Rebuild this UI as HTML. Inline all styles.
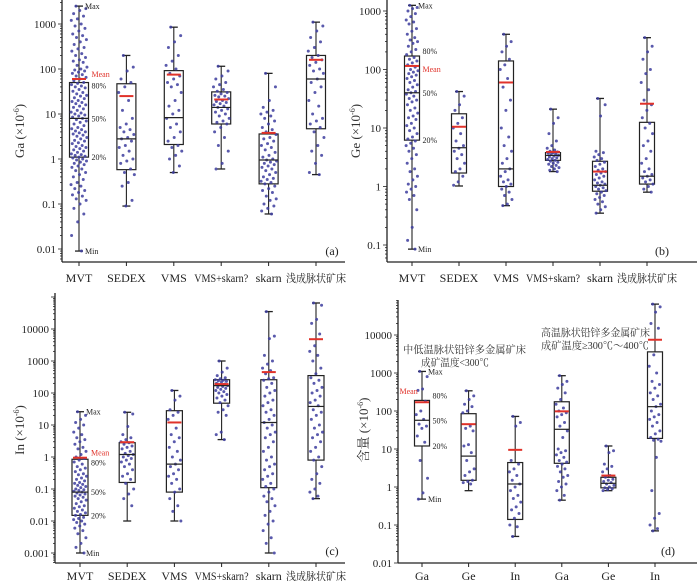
<!DOCTYPE html>
<html><head><meta charset="utf-8"><style>
html,body{margin:0;padding:0;background:#fff;}
svg{display:block;font-family:"Liberation Serif","Noto Serif CJK SC",serif;}
</style></head><body>
<svg id="chart" width="700" height="581" viewBox="0 0 700 581" xmlns="http://www.w3.org/2000/svg"></svg>
<script>
// ---------- data ----------
const catsABC = ["MVT","SEDEX","VMS","VMS+skarn?","skarn","浅成脉状矿床"];
const catsD = ["Ga","Ge","In","Ga","Ge","In"];

const ticksA = [0.01,0.1,1,10,100,1000];
const ticksB = [0.1,1,10,100,1000];
const ticksC = [0.001,0.01,0.1,1,10,100,1000,10000];
const ticksD = [0.01,0.1,1,10,100,1000,10000];

const aMin=[0.009,0.09,0.5,0.6,0.06,0.45];
const aQ20=[1.1,0.58,2.1,6,0.28,4.7];
const aMed=[8,2.8,8.3,14,0.95,60];
const aQ80=[50,47,92,31,3.6,200];
const aMax=[2500,200,850,115,80,1100];
const aMean=[60,25,75,21,3.8,160];
const aPts=[
[2500,2200,2000,1700,1500,1300,1200,1000,900,800,700,600,550,500,450,400,350,300,280,250,220,200,180,160,150,140,120,110,100,95,90,85,80,75,70,65,60,55,50,48,45,42,40,38,35,32,30,28,26,25,23,22,20,19,18,17,16,15,14,13,12,11,10.5,10,9.5,9,8.5,8,7.5,7,6.5,6,5.5,5,4.7,4.5,4.2,4,3.8,3.6,3.4,3.2,3,2.8,2.6,2.5,2.3,2.2,2,1.9,1.8,1.7,1.6,1.5,1.4,1.3,1.25,1.2,1.15,1.1,1.05,1,0.95,0.9,0.85,0.8,0.75,0.7,0.65,0.6,0.55,0.5,0.45,0.4,0.35,0.3,0.27,0.25,0.22,0.2,0.18,0.16,0.15,0.13,0.12,0.1,0.08,0.06,0.04,0.02,0.009],
[200,110,90,60,50,40,30,20,12,8,6,5,4.5,4,3.5,3,2.8,2.5,2,1.8,1.5,1.2,1,0.9,0.8,0.6,0.5,0.45,0.3,0.25,0.12,0.09],
[850,550,400,300,200,150,120,100,80,70,60,50,45,40,30,20,15,12,10,8,6,5,4,3,2.5,2,1.8,1.5,1.2,1,0.7,0.5],
[115,90,70,60,50,45,40,35,32,30,28,26,25,24,22,20,19,18,17,16,15,14,13,12,11,10,9,8,7,6.5,6,5,4,3,2,1.5,0.8,0.6],
[80,40,20,14,12,11,10,9,8,7,6,5,4.5,4,3.5,3,2.8,2.5,2.2,2,1.8,1.6,1.4,1.2,1.1,1,0.95,0.9,0.85,0.8,0.75,0.7,0.65,0.6,0.55,0.5,0.45,0.4,0.37,0.35,0.32,0.3,0.28,0.25,0.22,0.2,0.18,0.15,0.13,0.12,0.1,0.09,0.08,0.07,0.06],
[1100,900,700,500,400,300,250,200,180,160,140,120,100,90,80,60,50,40,30,20,15,10,8,7,6,5,4,3,2,1.5,1.2,0.8,0.5,0.45]];

const bMin=[0.085,1.02,0.47,1.8,0.35,0.8];
const bQ20=[6.2,1.7,1.0,2.8,0.83,1.1];
const bMed=[40,4.6,2.0,3.4,1.05,1.5];
const bQ80=[170,17.5,140,3.8,2.7,12.5];
const bMax=[1250,42,400,21,32,350];
const bMean=[115,10.5,60,3.9,1.8,26];
const bPts=[
[1250,1150,1100,1000,900,800,700,650,600,500,450,400,350,320,300,280,250,220,200,180,160,150,140,130,120,110,100,95,90,85,80,75,70,65,60,55,50,45,42,40,38,35,32,30,28,25,22,20,18,16,15,14,12,11,10,9,8,7,6.5,6,5.5,5,4.5,4,3.5,3,2.5,2,1.8,1.5,1.3,1.1,1,0.9,0.8,0.7,0.6,0.4,0.2,0.12,0.085],
[42,35,25,20,15,12,10,8,6,5,4.5,4,3.5,3,2.5,2,1.8,1.5,1.2,1.05],
[400,300,250,200,150,120,100,70,50,30,20,10,7,5,4,3,2.5,2,1.8,1.5,1.3,1.2,1.1,1,0.9,0.8,0.7,0.6,0.5,0.47],
[21,15,12,8,6,5,4.5,4.2,4,3.9,3.8,3.7,3.6,3.5,3.4,3.3,3.2,3.1,3,2.9,2.8,2.7,2.6,2.5,2.4,2.3,2.2,2.1,2,1.9,1.8],
[32,25,16,4,3.8,3.5,3.2,3,2.8,2.6,2.4,2.2,2,1.9,1.8,1.7,1.6,1.5,1.4,1.3,1.2,1.15,1.1,1.05,1,0.95,0.9,0.85,0.8,0.75,0.7,0.65,0.6,0.55,0.5,0.45,0.4,0.35],
[350,250,200,150,100,85,60,45,30,25,20,15,12,10,8,6,5,4,3,2.5,2,1.8,1.6,1.5,1.4,1.3,1.2,1.1,1,0.9,0.8]];

const cMin=[0.001,0.01,0.01,3.5,0.001,0.05];
const cQ20=[0.015,0.16,0.08,48,0.11,0.8];
const cMed=[0.08,1.2,0.6,170,12,38];
const cQ80=[0.85,2.8,28,260,260,350];
const cMax=[26,25,120,1000,35000,65000];
const cMean=[0.95,2.9,12,190,450,4800];
const cPts=[
[26,20,15,12,10,8,6,5,4,3.5,3,2.5,2,1.8,1.5,1.2,1,0.9,0.8,0.7,0.6,0.5,0.45,0.4,0.35,0.3,0.28,0.25,0.22,0.2,0.18,0.16,0.15,0.14,0.13,0.12,0.11,0.1,0.095,0.09,0.085,0.08,0.075,0.07,0.065,0.06,0.055,0.05,0.045,0.04,0.035,0.03,0.028,0.025,0.022,0.02,0.018,0.016,0.015,0.013,0.012,0.011,0.01,0.009,0.008,0.007,0.006,0.005,0.004,0.003,0.002,0.0015,0.001],
[25,22,9,5,4,3.5,3,2.8,2.5,2.2,2,1.8,1.5,1.3,1.2,1.1,1,0.9,0.8,0.7,0.6,0.5,0.4,0.3,0.25,0.2,0.15,0.1,0.07,0.05,0.03],
[120,80,60,30,25,20,15,8,5,4,3,2,1.5,1,0.8,0.6,0.5,0.4,0.3,0.25,0.2,0.15,0.1,0.08,0.05,0.03,0.02,0.01],
[1000,600,450,350,300,280,260,250,240,230,220,200,190,180,170,160,150,140,130,120,110,100,90,80,70,60,50,40,30,25,20,6,5,3.5],
[35000,6000,5000,1500,1000,800,600,500,400,300,280,250,200,150,120,100,80,60,50,40,30,25,20,15,12,10,8,6,5,4,3,2,1.5,1,0.8,0.6,0.5,0.4,0.3,0.25,0.2,0.15,0.12,0.1,0.08,0.06,0.05,0.04,0.03,0.02,0.015,0.01,0.008,0.005,0.003,0.002,0.001],
[65000,55000,20000,15000,7000,3000,2000,1500,1000,600,400,300,250,200,150,120,100,80,60,50,40,30,25,20,15,10,8,6,5,4,3,2,1.5,1,0.8,0.5,0.3,0.2,0.15,0.1,0.08,0.06,0.05]];

const dMin=[0.48,0.8,0.05,0.45,0.8,0.07];
const dQ20=[12,1.5,0.14,4.2,0.95,19];
const dMed=[57,6.5,1.2,33,1.25,130];
const dQ80=[190,85,4.4,175,1.8,3600];
const dMax=[1100,340,72,850,12,65000];
const dMean=[170,45,9.5,98,2.0,7500];
const dPts=[
[1100,800,380,350,180,100,80,60,45,40,35,22,15,5,1.7,0.7,0.48],
[340,250,200,150,130,100,90,40,35,30,13,12,8,5,3,2.5,2,1.5,1.4,1.3,1.2],
[72,50,40,5,4,3,2.5,2,1.5,1.2,1,0.8,0.6,0.5,0.4,0.3,0.25,0.2,0.15,0.1,0.09,0.05],
[850,600,500,400,300,200,150,120,100,90,80,70,50,40,30,20,10,9,8,7,6,5,4.5,4,3.5,3,2.5,2,1.8,1.4,1.2,1,0.8,0.6,0.45],
[12,9,8,4,3.5,3,2.5,2,1.8,1.6,1.5,1.4,1.3,1.2,1.1,1,0.95,0.9,0.85,0.8],
[65000,55000,40000,20000,15000,3000,1500,1000,600,500,400,300,250,200,150,130,100,80,70,60,50,40,30,25,20,18,17,16,6,0.8,0.2,0.15,0.1,0.08,0.07]];

// ---------- layout ----------
const NS="http://www.w3.org/2000/svg";
const svg=document.getElementById('chart');
function mk(tag,attrs,parent){const e=document.createElementNS(NS,tag);for(const k in attrs)e.setAttribute(k,attrs[k]);(parent||svg).appendChild(e);return e;}

const panels=[
 {id:'a',cats:catsABC,ticks:ticksA,mins:aMin,q20:aQ20,med:aMed,q80:aQ80,maxs:aMax,means:aMean,pts:aPts,
  ax:62,top:0,bot:262,right:345,ay1:159,ppd:45,x0:79,dx:47.4,bw:19,title:"Ga",tx:24,ty:131,lx:332,ly:255,catY:282,meanMode:'above'},
 {id:'b',cats:catsABC,ticks:ticksB,mins:bMin,q20:bQ20,med:bMed,q80:bQ80,maxs:bMax,means:bMean,pts:bPts,
  ax:387,top:0,bot:262,right:697,ay1:186.5,ppd:58.5,x0:412,dx:47,bw:15,title:"Ge",tx:360,ty:131,lx:662,ly:255,catY:282,meanMode:'below'},
 {id:'c',cats:catsABC,ticks:ticksC,mins:cMin,q20:cQ20,med:cMed,q80:cQ80,maxs:cMax,means:cMean,pts:cPts,
  ax:55,top:293,bot:563,right:345,ay1:457,ppd:32,x0:80,dx:47.2,bw:16,title:"In",tx:24,ty:430,lx:332,ly:555,catY:580,meanMode:'above'},
 {id:'d',cats:catsD,ticks:ticksD,mins:dMin,q20:dQ20,med:dMed,q80:dQ80,maxs:dMax,means:dMean,pts:dPts,
  ax:398,top:300,bot:563,right:697,ay1:487,ppd:38,x0:422,dx:46.6,bw:15,title:"含量",tx:368,ty:430,lx:668,ly:555,catY:580,meanMode:'left'}
];

panels.forEach(p=>{
  const g=mk('g',{});
  
  
  const Y=v=>p.ay1-Math.log10(v)*p.ppd;
  const X=i=>p.x0+i*p.dx;
  const ya=mk('line',{x1:p.ax,y1:p.top,x2:p.ax,y2:p.bot,stroke:'#222','stroke-width':1.3},g);
  
  
  const xa=mk('line',{x1:p.ax,y1:p.bot,x2:p.right,y2:p.bot,stroke:'#222','stroke-width':1.3},g);
  
  
  const lo=Math.log10(p.ticks[0])-1, hi=Math.log10(p.ticks[p.ticks.length-1])+1;
  for(let d=lo;d<=hi;d++){
    for(let m=1;m<10;m++){
      const v=m*Math.pow(10,d);const y=Y(v);
      if(y<p.top||y>p.bot)continue;
      mk('line',{x1:p.ax-(m==1?4:2),y1:y,x2:p.ax,y2:y,stroke:'#222','stroke-width':0.8},g);
    }
  }
  p.ticks.forEach(t=>{
    const tl=mk('text',{x:p.ax-6,y:Y(t)+4,'text-anchor':'end','font-size':11,fill:'#222'},g);
    tl.textContent=String(t);
    
    
  });
  const tt=mk('text',{x:p.tx,y:p.ty,'text-anchor':'middle','font-size':13,fill:'#333',transform:`rotate(-90 ${p.tx} ${p.ty})`},g);
  
  
  const s1=mk('tspan',{},tt); s1.textContent=p.title+" (×10";
  const s2=mk('tspan',{dy:-5,'font-size':8},tt); s2.textContent="-6";
  const s3=mk('tspan',{dy:5},tt); s3.textContent=")";
  const pl=mk('text',{x:p.lx,y:p.ly,'text-anchor':'middle','font-size':12,fill:'#222'},g);
  pl.textContent='('+p.id+')';
  
  
  p.cats.forEach((c,i)=>{
    const cx=X(i);
    mk('line',{x1:cx,y1:p.bot,x2:cx,y2:p.bot+4,stroke:'#222','stroke-width':1},g);
    const cjk=/[^\x00-\x7f]/.test(c);
    const cl=mk('text',{x:cx,y:p.catY,'text-anchor':'middle','font-size':cjk?11:12,fill:'#222'},g);
    if(c==="VMS+skarn?"){cl.setAttribute('textLength',54);cl.setAttribute('lengthAdjust','spacingAndGlyphs');}
    if(cjk){cl.setAttribute('textLength',60);cl.setAttribute('lengthAdjust','spacingAndGlyphs');}
    cl.textContent=c;
    
    
    const bg=mk('g',{},g);
    
    
    const hw=p.bw/2;
    mk('line',{x1:cx,y1:Y(p.maxs[i]),x2:cx,y2:Y(p.mins[i]),stroke:'#222','stroke-width':1.1},bg);
    mk('line',{x1:cx-4,y1:Y(p.maxs[i]),x2:cx+4,y2:Y(p.maxs[i]),stroke:'#222','stroke-width':1.3},bg);
    mk('line',{x1:cx-4,y1:Y(p.mins[i]),x2:cx+4,y2:Y(p.mins[i]),stroke:'#222','stroke-width':1.3},bg);
    mk('rect',{x:cx-hw,y:Y(p.q80[i]),width:p.bw,height:Y(p.q20[i])-Y(p.q80[i]),fill:'#fff',stroke:'#222','stroke-width':1.2},bg);
    p.pts[i].forEach((v,k)=>{
      const f=((k*0.6180339+0.31)%1)-0.5;
      const off=f*2*(hw-1.5);
      const pt=mk('circle',{cx:cx+off,cy:Y(v),r:1.5,fill:'#3c3c9e','fill-opacity':0.85},bg);
      
      
    });
    mk('line',{x1:cx-hw,y1:Y(p.med[i]),x2:cx+hw,y2:Y(p.med[i]),stroke:'#222','stroke-width':1.2},bg);
    const ml=mk('line',{x1:cx-7,y1:Y(p.means[i]),x2:cx+7,y2:Y(p.means[i]),stroke:'#e0322a','stroke-width':2},bg);
    
    
    if(i===0){
      const lx=cx+hw+3;
      const lab=(t,v,col,dy,xx)=>{const e=mk('text',{x:xx||lx,y:Y(v)+dy,'font-size':8,fill:col},bg);e.textContent=t;
        
        };
      lab('Max',p.maxs[i],'#222',3,cx+6);
      lab('Min',p.mins[i],'#222',3,cx+6);
      lab('80%',p.q80[i],'#222',p.meanMode==='above'?6:-2);
      lab('50%',p.med[i],'#222',3);
      lab('20%',p.q20[i],'#222',3);
      if(p.meanMode==='above')lab('Mean',p.means[i],'#e0322a',-2);
      else if(p.meanMode==='below')lab('Mean',p.means[i],'#e0322a',6);
      else lab('Mean',p.means[i],'#e0322a',-8,cx-hw-15);
    }
  });
});

function note(t,x,y,w){const e=mk('text',{x:x,y:y,'font-size':10.5,fill:'#333',textLength:w,lengthAdjust:'spacingAndGlyphs'});e.textContent=t;return e;}
const n1=note('中低温脉状铅锌多金属矿床',403,353,123);


const n2=note('成矿温度<300℃',421,366,68);


const n3=note('高温脉状铅锌多金属矿床',541,336,109);


const n4=note('成矿温度≥300℃～400℃',541,349,108);


</script>
</body></html>
